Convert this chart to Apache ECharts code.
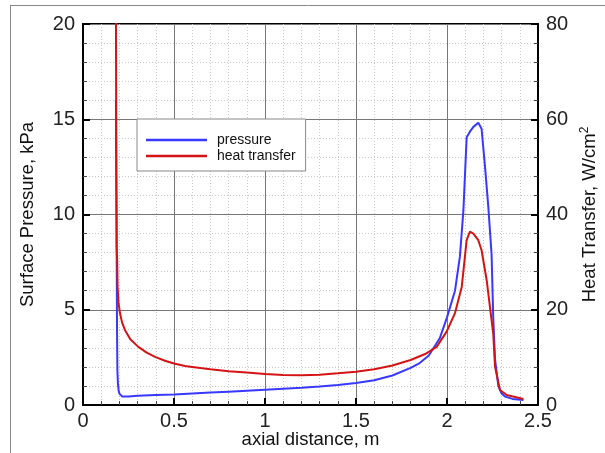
<!DOCTYPE html>
<html>
<head>
<meta charset="utf-8">
<script src="https://cdn.jsdelivr.net/npm/echarts@6/dist/echarts.min.js"></script>
<style>html,body{margin:0;padding:0;background:#fff;}#c{width:605px;height:453px;}</style>
</head>
<body>
<div id="c"></div>
<script>
// axial distance (m) and surface pressure (kPa)
var pressureX = [0.181,0.183,0.185,0.187,0.189,0.192,0.196,0.2,0.205,0.215,0.25,0.3,0.4,0.5,0.6,0.7,0.8,0.9,1.0,1.1,1.2,1.3,1.4,1.5,1.6,1.7,1.8,1.85,1.9,1.96,2.0,2.044,2.071,2.09,2.108,2.126,2.145,2.172,2.19,2.209,2.227,2.245,2.254,2.264,2.282,2.3,2.319,2.36,2.42];
var pressureY = [16,12,8,4,1.8,1.1,0.75,0.6,0.5,0.45,0.45,0.48,0.52,0.55,0.6,0.65,0.7,0.75,0.8,0.85,0.9,0.97,1.05,1.15,1.3,1.55,1.95,2.2,2.6,3.5,4.6,6.0,7.8,10.2,14.05,14.35,14.6,14.82,14.5,12.5,10.4,7.9,4.6,2.4,1.0,0.6,0.44,0.32,0.26];
// axial distance (m) and heat transfer (W/cm2)
var heatX = [0.181,0.183,0.185,0.188,0.19,0.195,0.203,0.215,0.231,0.26,0.304,0.35,0.396,0.45,0.5,0.56,0.6,0.7,0.8,0.9,1.0,1.1,1.2,1.3,1.4,1.5,1.6,1.7,1.8,1.88,1.943,1.998,2.044,2.081,2.108,2.126,2.145,2.172,2.19,2.218,2.236,2.245,2.254,2.264,2.291,2.328,2.42];
var heatY = [82,50,33,30,25,21.5,19.3,17.3,15.7,13.8,12.2,11,10.1,9.3,8.7,8.2,8.0,7.5,7.1,6.8,6.5,6.3,6.25,6.35,6.65,7.0,7.5,8.3,9.45,10.7,12.2,15.4,19.3,24.8,34.6,36.4,36.0,34.6,32.5,26.2,20.6,20.3,15,8.0,3.15,2.1,1.26];
var xTicks = {min:0, max:2.5, interval:0.5};
var yLeftTicks = {min:0, max:20, interval:5};
var yRightTicks = {min:0, max:80, interval:20};

function pairs(xs, ys){ return xs.map(function(x,i){ return [x, ys[i]]; }); }

var chart = echarts.init(document.getElementById('c'));
var FONT = 'Liberation Sans, Arial, sans-serif';
var labelStyle = {color:'#222', fontSize:20, fontFamily:FONT};
var nameStyle = {color:'#111', fontSize:18.5, fontFamily:FONT};
chart.setOption({
  animation:false,
  backgroundColor:'#fff',
  grid:{left:83, right:67, top:24, bottom:48, containLabel:false, outerBoundsMode:'none', show:true, borderColor:'#000', borderWidth:2, backgroundColor:'transparent'},
  graphic:[
    {type:'line', shape:{x1:10, y1:5.5, x2:605, y2:5.5}, style:{stroke:'#888', lineWidth:1}, silent:true},
    {type:'line', shape:{x1:10.5, y1:5, x2:10.5, y2:453}, style:{stroke:'#888', lineWidth:1}, silent:true}
  ],
  legend:{
    left:137, top:119, orient:'vertical',
    backgroundColor:'#fff', borderColor:'#888', borderWidth:1, borderRadius:0,
    padding:[13,10,7,9], itemGap:0,
    itemWidth:61, itemHeight:2.5, icon:'rect',
    textStyle:{color:'#111', fontSize:14, lineHeight:16, fontFamily:FONT, padding:[0,0,0,5]},
    data:['pressure','heat transfer']
  },
  xAxis:{
    type:'value', min:xTicks.min, max:xTicks.max, interval:xTicks.interval,
    name:'axial distance, m', nameLocation:'middle', nameGap:25, nameMoveOverlap:false, nameTextStyle:nameStyle,
    axisLine:{show:true, lineStyle:{color:'#000', width:2}},
    axisTick:{show:true, inside:true, length:7, lineStyle:{color:'#000', width:2}},
    minorTick:{show:true, splitNumber:5, length:4, lineStyle:{color:'#444', width:1}},
    axisLabel:Object.assign({margin:6, showMinLabel:true, showMaxLabel:true}, labelStyle),
    splitLine:{show:true, lineStyle:{color:'#777', width:1}},
    minorSplitLine:{show:true, lineStyle:{color:'#c8c8c8', width:1, type:[1,2]}}
  },
  yAxis:[
    {
      type:'value', position:'left', min:yLeftTicks.min, max:yLeftTicks.max, interval:yLeftTicks.interval,
      name:'Surface Pressure, kPa', nameLocation:'middle', nameRotate:90, nameGap:46, nameMoveOverlap:false, nameTextStyle:nameStyle,
      axisLine:{show:true, lineStyle:{color:'#000', width:2}},
      axisTick:{show:true, inside:true, length:7, lineStyle:{color:'#000', width:2}},
      minorTick:{show:true, splitNumber:5, length:4, lineStyle:{color:'#444', width:1}},
      axisLabel:Object.assign({margin:8}, labelStyle),
      splitLine:{show:true, lineStyle:{color:'#777', width:1}},
      minorSplitLine:{show:true, lineStyle:{color:'#c8c8c8', width:1, type:[1,2]}}
    },
    {
      type:'value', position:'right', min:yRightTicks.min, max:yRightTicks.max, interval:yRightTicks.interval,
      name:'Heat Transfer, W/cm{sup|2}', nameLocation:'middle', nameRotate:90, nameGap:41, nameMoveOverlap:false,
      nameTextStyle:Object.assign({rich:{sup:{fontSize:12, verticalAlign:'bottom', padding:[0,0,9,0], fontFamily:FONT, color:'#111'}}}, nameStyle),
      axisLine:{show:true, lineStyle:{color:'#000', width:2}},
      axisTick:{show:true, inside:true, length:7, lineStyle:{color:'#000', width:2}},
      minorTick:{show:true, splitNumber:5, length:4, lineStyle:{color:'#444', width:1}},
      axisLabel:Object.assign({margin:8}, labelStyle),
      splitLine:{show:false}
    }
  ],
  series:[
    {name:'pressure', type:'line', yAxisIndex:0, data:pairs(pressureX, pressureY), showSymbol:false, symbol:'none', smooth:false,
     lineStyle:{color:'#3838ff', width:2}, itemStyle:{color:'#3838ff'}, z:3},
    {name:'heat transfer', type:'line', yAxisIndex:1, data:pairs(heatX, heatY), showSymbol:false, symbol:'none', smooth:false,
     lineStyle:{color:'#d41414', width:2}, itemStyle:{color:'#d41414'}, z:4}
  ]
});
</script>
</body>
</html>
